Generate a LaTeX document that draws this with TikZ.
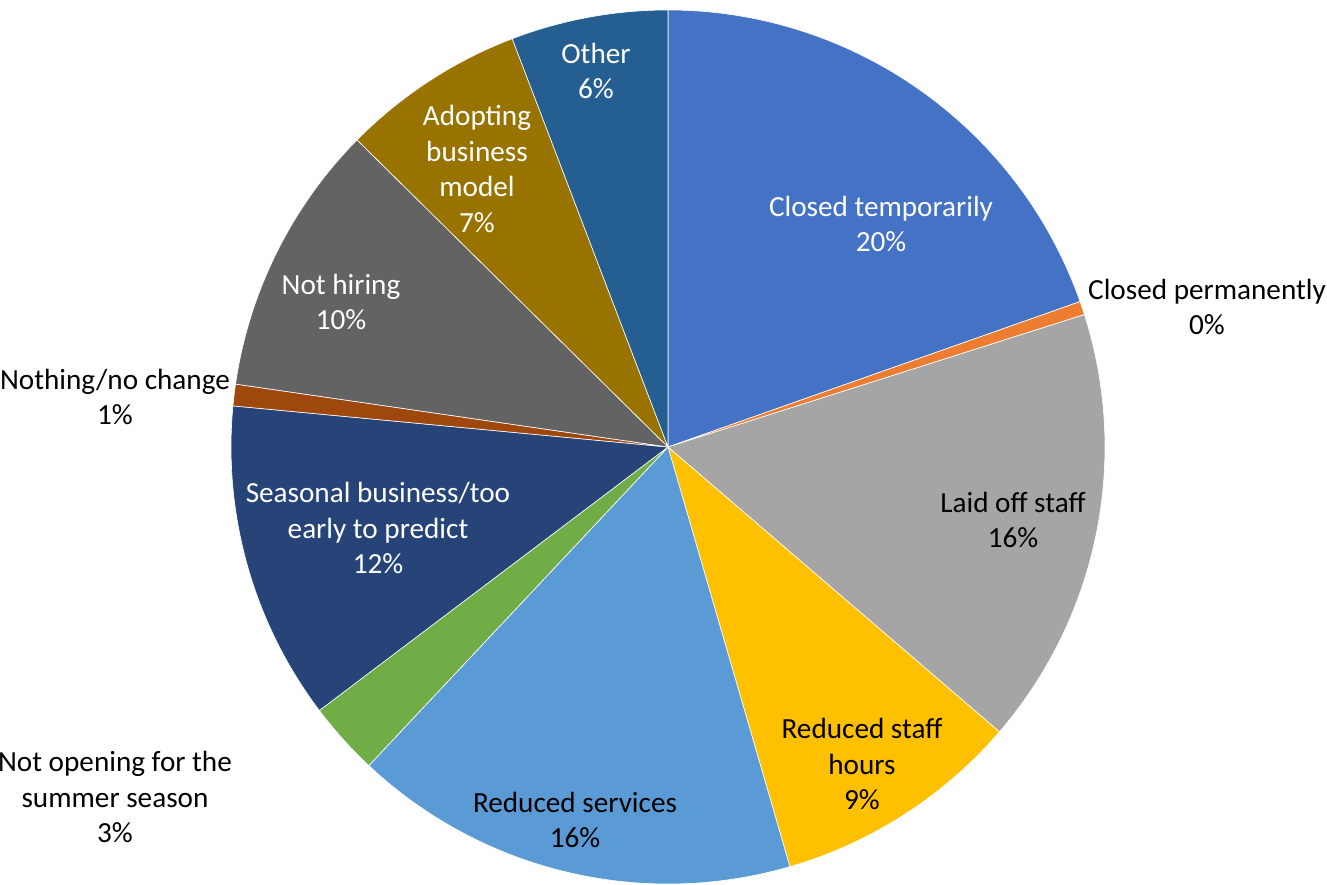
\documentclass[tikz,border=0pt]{standalone}
\usepackage{fontspec}
\setmainfont{Carlito}
\definecolor{cTemp}{HTML}{4472C4}
\definecolor{cPerm}{HTML}{ED7D31}
\definecolor{cLaid}{HTML}{A5A5A5}
\definecolor{cHours}{HTML}{FFC000}
\definecolor{cServ}{HTML}{5B9BD5}
\definecolor{cSummer}{HTML}{70AD47}
\definecolor{cSeason}{HTML}{264478}
\definecolor{cNothing}{HTML}{9E480E}
\definecolor{cHiring}{HTML}{636363}
\definecolor{cModel}{HTML}{997300}
\definecolor{cOther}{HTML}{255E91}
\tikzset{
  slice/.style={draw=white, line width=0.6pt},
  lbl/.style={align=center, font=\fontsize{29.2}{35.5}\selectfont, inner sep=0pt},
  lblw/.style={lbl, text=white}
}
\begin{document}
\begin{tikzpicture}[x=1pt, y=1pt]
	\useasboundingbox (-668, -437) rectangle (659, 447);
	% slices, clockwise from the top
	\draw[slice, fill = cTemp] (0, 0) -- (90:437) arc[start angle=90, end angle=19.44, radius=437] -- cycle;
	\draw[slice, fill = cPerm] (0, 0) -- (19.44:437) arc[start angle=19.44, end angle=17.64, radius=437] -- cycle;
	\draw[slice, fill = cLaid] (0, 0) -- (17.64:437) arc[start angle=17.64, end angle=-40.68, radius=437] -- cycle;
	\draw[slice, fill = cHours] (0, 0) -- (-40.68:437) arc[start angle=-40.68, end angle=-73.8, radius=437] -- cycle;
	\draw[slice, fill = cServ] (0, 0) -- (-73.8:437) arc[start angle=-73.8, end angle=-133.2, radius=437] -- cycle;
	\draw[slice, fill = cSummer] (0, 0) -- (-133.2:437) arc[start angle=-133.2, end angle=-142.92, radius=437] -- cycle;
	\draw[slice, fill = cSeason] (0, 0) -- (-142.92:437) arc[start angle=-142.92, end angle=-185.4, radius=437] -- cycle;
	\draw[slice, fill = cNothing] (0, 0) -- (-185.4:437) arc[start angle=-185.4, end angle=-188.28, radius=437] -- cycle;
	\draw[slice, fill = cHiring] (0, 0) -- (-188.28:437) arc[start angle=-188.28, end angle=-224.64, radius=437] -- cycle;
	\draw[slice, fill = cModel] (0, 0) -- (-224.64:437) arc[start angle=-224.64, end angle=-249.12, radius=437] -- cycle;
	\draw[slice, fill = cOther] (0, 0) -- (-249.12:437) arc[start angle=-249.12, end angle=-270, radius=437] -- cycle;
	% labels
	\node[lblw] (temp) at (213, 223) {Closed temporarily\\20\%};
	\node[lbl] (perm) at (539, 140) {Closed permanently\\0\%};
	\node[lbl] (laid) at (345, -73) {Laid off staff\\16\%};
	\node[lbl] (hours) at (194, -317) {Reduced staff\\hours\\9\%};
	\node[lbl] (serv) at (-93, -373) {Reduced services\\16\%};
	\node[lbl] (summer) at (-553, -350) {Not opening for the\\summer season\\3\%};
	\node[lblw] (season) at (-290, -81) {Seasonal business/too\\early to predict\\12\%};
	\node[lbl] (nothing) at (-553, 50) {Nothing/no change\\1\%};
	\node[lblw] (hiring) at (-327, 145) {Not hiring\\10\%};
	\node[lblw] (model) at (-191, 278) {Adopting\\business\\model\\7\%};
	\node[lblw] (other) at (-72, 376) {Other\\6\%};
\end{tikzpicture}
\end{document}
